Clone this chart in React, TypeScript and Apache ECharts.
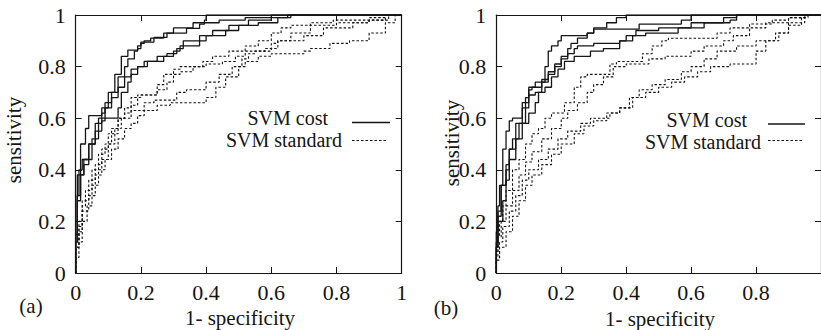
import React, { useEffect, useRef } from "react";
import * as echarts from "echarts";

type Pt = [number, number];

// Panel (a) – SVM cost (solid)
const aCost1: Pt[] = [[0,0],[0.005,0.2],[0.015,0.38],[0.03,0.5],[0.04,0.56],[0.08,0.61],[0.1,0.64],[0.12,0.7],[0.14,0.77],[0.16,0.84],[0.19,0.864],[0.2,0.88],[0.24,0.895],[0.28,0.913],[0.34,0.93],[0.38,0.948],[0.395,0.965],[0.4,0.98],[0.41,1],[1,1]];
const aCost2: Pt[] = [[0,0],[0.005,0.15],[0.01,0.3],[0.02,0.4],[0.04,0.44],[0.06,0.5],[0.08,0.58],[0.09,0.62],[0.11,0.66],[0.13,0.7],[0.15,0.76],[0.16,0.8],[0.18,0.83],[0.19,0.86],[0.2,0.87],[0.21,0.89],[0.23,0.9],[0.27,0.91],[0.3,0.93],[0.36,0.95],[0.44,0.97],[0.52,0.98],[0.6,0.99],[0.62,1],[1,1]];
const aCost3: Pt[] = [[0,0],[0.005,0.15],[0.015,0.3],[0.025,0.38],[0.05,0.44],[0.07,0.52],[0.09,0.6],[0.11,0.64],[0.13,0.68],[0.15,0.72],[0.17,0.76],[0.19,0.79],[0.22,0.8],[0.27,0.82],[0.3,0.84],[0.32,0.86],[0.33,0.88],[0.38,0.9],[0.42,0.92],[0.47,0.94],[0.53,0.96],[0.6,0.98],[0.65,0.99],[0.68,1],[1,1]];
const aCost4: Pt[] = [[0,0],[0.005,0.12],[0.015,0.28],[0.025,0.38],[0.04,0.42],[0.06,0.5],[0.08,0.55],[0.09,0.59],[0.13,0.6],[0.14,0.64],[0.16,0.7],[0.17,0.74],[0.19,0.77],[0.21,0.8],[0.25,0.82],[0.28,0.84],[0.31,0.85],[0.33,0.87],[0.38,0.88],[0.4,0.9],[0.46,0.92],[0.5,0.94],[0.56,0.96],[0.62,0.97],[0.66,0.99],[0.67,1],[1,1]];

// Panel (a) – SVM standard (dashed)
const aStd1: Pt[] = [[0,0],[0.01,0.12],[0.02,0.2],[0.04,0.28],[0.06,0.36],[0.08,0.42],[0.1,0.48],[0.13,0.54],[0.15,0.6],[0.17,0.64],[0.19,0.68],[0.25,0.69],[0.27,0.73],[0.3,0.77],[0.32,0.79],[0.39,0.8],[0.42,0.82],[0.47,0.84],[0.52,0.86],[0.56,0.88],[0.6,0.9],[0.63,0.93],[0.66,0.95],[0.72,0.96],[0.79,0.97],[0.9,0.98],[0.95,0.99],[1,1]];
const aStd2: Pt[] = [[0,0],[0.01,0.1],[0.02,0.18],[0.03,0.26],[0.05,0.32],[0.07,0.4],[0.09,0.46],[0.11,0.5],[0.13,0.56],[0.15,0.6],[0.17,0.62],[0.19,0.65],[0.2,0.68],[0.25,0.69],[0.28,0.71],[0.3,0.74],[0.32,0.77],[0.36,0.78],[0.4,0.8],[0.45,0.81],[0.49,0.82],[0.52,0.84],[0.58,0.86],[0.62,0.87],[0.66,0.9],[0.72,0.93],[0.8,0.96],[0.9,0.97],[0.96,0.98],[1,1]];
const aStd3: Pt[] = [[0,0],[0.01,0.1],[0.02,0.16],[0.04,0.24],[0.06,0.3],[0.08,0.38],[0.1,0.44],[0.12,0.5],[0.14,0.56],[0.17,0.6],[0.21,0.63],[0.24,0.66],[0.31,0.67],[0.34,0.7],[0.4,0.71],[0.44,0.74],[0.48,0.77],[0.51,0.8],[0.53,0.83],[0.55,0.85],[0.6,0.86],[0.62,0.89],[0.7,0.9],[0.76,0.92],[0.85,0.95],[0.9,0.97],[0.95,0.98],[1,1]];
const aStd4: Pt[] = [[0,0],[0.01,0.06],[0.02,0.12],[0.035,0.2],[0.05,0.26],[0.07,0.34],[0.09,0.4],[0.11,0.44],[0.13,0.48],[0.15,0.52],[0.17,0.56],[0.19,0.58],[0.21,0.61],[0.25,0.63],[0.29,0.65],[0.34,0.66],[0.4,0.66],[0.43,0.68],[0.46,0.72],[0.5,0.76],[0.52,0.8],[0.56,0.82],[0.6,0.84],[0.7,0.85],[0.72,0.86],[0.78,0.87],[0.84,0.89],[0.9,0.9],[0.95,0.93],[0.98,0.97],[1,1]];

// Panel (b) – SVM cost (solid)
const bCost1: Pt[] = [[0,0],[0.005,0.16],[0.01,0.26],[0.02,0.34],[0.03,0.48],[0.04,0.55],[0.05,0.59],[0.08,0.6],[0.09,0.64],[0.1,0.68],[0.12,0.72],[0.15,0.74],[0.16,0.8],[0.17,0.86],[0.19,0.88],[0.2,0.9],[0.28,0.92],[0.3,0.93],[0.34,0.95],[0.37,0.97],[0.4,0.99],[0.41,1],[1,1]];
const bCost2: Pt[] = [[0,0],[0.005,0.12],[0.015,0.24],[0.03,0.34],[0.04,0.42],[0.05,0.48],[0.06,0.52],[0.08,0.58],[0.1,0.66],[0.11,0.71],[0.14,0.72],[0.16,0.75],[0.18,0.78],[0.2,0.81],[0.22,0.84],[0.23,0.87],[0.25,0.89],[0.28,0.91],[0.3,0.93],[0.44,0.945],[0.57,0.965],[0.6,0.98],[0.61,1],[1,1]];
const bCost3: Pt[] = [[0,0],[0.005,0.1],[0.015,0.22],[0.03,0.34],[0.04,0.4],[0.06,0.48],[0.07,0.52],[0.09,0.58],[0.1,0.64],[0.12,0.69],[0.14,0.7],[0.16,0.74],[0.18,0.77],[0.2,0.8],[0.22,0.83],[0.24,0.85],[0.25,0.87],[0.3,0.88],[0.38,0.89],[0.4,0.9],[0.43,0.92],[0.5,0.94],[0.6,0.95],[0.7,0.97],[0.74,0.99],[0.75,1],[1,1]];
const bCost4: Pt[] = [[0,0],[0.005,0.1],[0.02,0.2],[0.03,0.28],[0.04,0.36],[0.06,0.44],[0.08,0.52],[0.1,0.58],[0.12,0.62],[0.13,0.66],[0.15,0.7],[0.17,0.72],[0.19,0.76],[0.21,0.79],[0.24,0.82],[0.29,0.84],[0.33,0.86],[0.38,0.87],[0.42,0.9],[0.46,0.92],[0.56,0.93],[0.64,0.95],[0.72,0.97],[0.74,0.98],[0.76,1],[1,1]];

// Panel (b) – SVM standard (dashed)
const bStd1: Pt[] = [[0,0],[0.005,0.08],[0.01,0.14],[0.02,0.2],[0.03,0.26],[0.05,0.32],[0.07,0.4],[0.09,0.44],[0.11,0.5],[0.13,0.54],[0.15,0.56],[0.17,0.6],[0.21,0.62],[0.24,0.66],[0.26,0.72],[0.28,0.76],[0.35,0.77],[0.37,0.81],[0.45,0.82],[0.48,0.85],[0.51,0.88],[0.53,0.9],[0.68,0.91],[0.72,0.93],[0.78,0.95],[0.85,0.965],[0.9,0.98],[0.95,0.99],[1,1]];
const bStd2: Pt[] = [[0,0],[0.005,0.06],[0.015,0.14],[0.03,0.2],[0.05,0.26],[0.07,0.32],[0.09,0.38],[0.11,0.43],[0.14,0.47],[0.17,0.52],[0.2,0.56],[0.22,0.6],[0.25,0.63],[0.28,0.66],[0.3,0.7],[0.33,0.73],[0.36,0.76],[0.4,0.8],[0.47,0.81],[0.52,0.83],[0.6,0.84],[0.64,0.86],[0.7,0.88],[0.73,0.9],[0.78,0.92],[0.83,0.95],[0.9,0.97],[0.96,0.99],[1,1]];
const bStd3: Pt[] = [[0,0],[0.01,0.06],[0.02,0.12],[0.04,0.18],[0.06,0.24],[0.08,0.3],[0.1,0.36],[0.13,0.4],[0.16,0.44],[0.19,0.48],[0.22,0.52],[0.26,0.55],[0.29,0.58],[0.35,0.6],[0.38,0.62],[0.41,0.64],[0.44,0.68],[0.48,0.71],[0.52,0.73],[0.57,0.75],[0.6,0.78],[0.64,0.8],[0.68,0.83],[0.74,0.86],[0.8,0.88],[0.86,0.9],[0.9,0.93],[0.94,0.96],[1,1]];
const bStd4: Pt[] = [[0,0],[0.01,0.05],[0.03,0.1],[0.05,0.16],[0.07,0.22],[0.09,0.28],[0.11,0.34],[0.14,0.38],[0.17,0.42],[0.2,0.46],[0.24,0.5],[0.27,0.54],[0.3,0.57],[0.34,0.59],[0.38,0.62],[0.42,0.64],[0.46,0.68],[0.5,0.7],[0.54,0.72],[0.58,0.74],[0.62,0.76],[0.66,0.78],[0.72,0.8],[0.8,0.81],[0.83,0.86],[0.87,0.9],[0.9,0.93],[0.95,0.97],[1,1]];

const panelACost = [aCost1, aCost2, aCost3, aCost4];
const panelAStd = [aStd1, aStd2, aStd3, aStd4];
const panelBCost = [bCost1, bCost2, bCost3, bCost4];
const panelBStd = [bStd1, bStd2, bStd3, bStd4];

const legendNames = ["SVM cost", "SVM standard"];
const xTitle = "1- specificity";
const yTitle = "sensitivity";
const panelTags = ["(a)", "(b)"];

const FONT = "'Liberation Serif', 'Times New Roman', serif";
const INK = "#151515";

export default function App() {
  const ref = useRef<HTMLDivElement>(null);
  useEffect(() => {
    if (!ref.current) return;
    const chart = echarts.init(ref.current, undefined, { renderer: "svg" });

    const grids = [
      { left: 75.7, top: 15, width: 326, height: 258 },
      { left: 496.3, top: 15, width: 327, height: 258 },
    ];

    const axisBase = {
      type: "value" as const,
      min: 0,
      max: 1,
      interval: 0.2,
      splitLine: { show: false },
      axisLine: { show: true, onZero: false, lineStyle: { color: INK, width: 1.2 } },
      axisTick: { show: true, inside: true, length: 6, lineStyle: { color: INK, width: 1 } },
    };
    const labelStyle = { color: INK, fontFamily: FONT, fontSize: 22 };

    const xAxis: any[] = [];
    const yAxis: any[] = [];
    [0, 1].forEach((g) => {
      xAxis.push({ ...axisBase, gridIndex: g, position: "bottom", axisLabel: { ...labelStyle, margin: 8, showMaxLabel: g === 0 } });
      xAxis.push({ ...axisBase, gridIndex: g, position: "top", axisLabel: { show: false } });
      yAxis.push({ ...axisBase, gridIndex: g, position: "left", axisLabel: { ...labelStyle, margin: 10 } });
      yAxis.push({ ...axisBase, gridIndex: g, position: "right", axisLabel: { show: false } });
    });

    const mk = (data: Pt[], dashed: boolean, g: number) => ({
      type: "line",
      data,
      xAxisIndex: g * 2,
      yAxisIndex: g * 2,
      step: "start",
      symbol: "none",
      silent: true,
      lineStyle: dashed
        ? { color: "#111", width: 1.1, type: [2.5, 2] }
        : { color: INK, width: 1.3, type: "solid" },
      z: dashed ? 2 : 3,
    });

    const series: any[] = [
      ...panelAStd.map((d) => mk(d, true, 0)),
      ...panelACost.map((d) => mk(d, false, 0)),
      ...panelBStd.map((d) => mk(d, true, 1)),
      ...panelBCost.map((d) => mk(d, false, 1)),
    ];

    const txt = (text: string, x: number, y: number, align: string, size = 21, rotation = 0) => ({
      type: "text",
      x,
      y,
      rotation,
      silent: true,
      style: { text, fill: INK, font: `${size}px ${FONT}`, textAlign: align, textVerticalAlign: "middle" },
    });
    const seg = (x1: number, x2: number, y: number, dashed: boolean) => ({
      type: "line",
      silent: true,
      shape: { x1, y1: y, x2, y2: y },
      style: dashed ? { stroke: "#111", lineWidth: 1.1, lineDash: [2.5, 2] } : { stroke: INK, lineWidth: 1.3 },
    });

    const graphic: any[] = [
      // panel a
      txt(yTitle, 14, 140, "center", 21, Math.PI / 2),
      txt(xTitle, 240, 318, "center"),
      txt(panelTags[0], 31, 306, "center"),
      txt(legendNames[0], 328, 117.5, "right", 20),
      txt(legendNames[1], 342, 139.5, "right", 20),
      seg(352, 390, 122.5, false),
      seg(352, 388, 140.5, true),
      // panel b
      txt(yTitle, 452, 143, "center", 21, Math.PI / 2),
      txt(xTitle, 660, 319, "center"),
      txt(panelTags[1], 446, 308, "center"),
      txt(legendNames[0], 747, 119.5, "right", 20),
      txt(legendNames[1], 761, 141.5, "right", 20),
      seg(768, 805, 124, false),
      seg(768, 803, 140.5, true),
    ];

    chart.setOption({
      animation: false,
      backgroundColor: "#ffffff",
      grid: grids,
      xAxis,
      yAxis,
      series,
      graphic,
    });
    return () => chart.dispose();
  }, []);

  return (
    <div
      ref={ref}
      style={{ position: "fixed", left: 0, top: 0, width: 821, height: 330, background: "#fff" }}
    />
  );
}
